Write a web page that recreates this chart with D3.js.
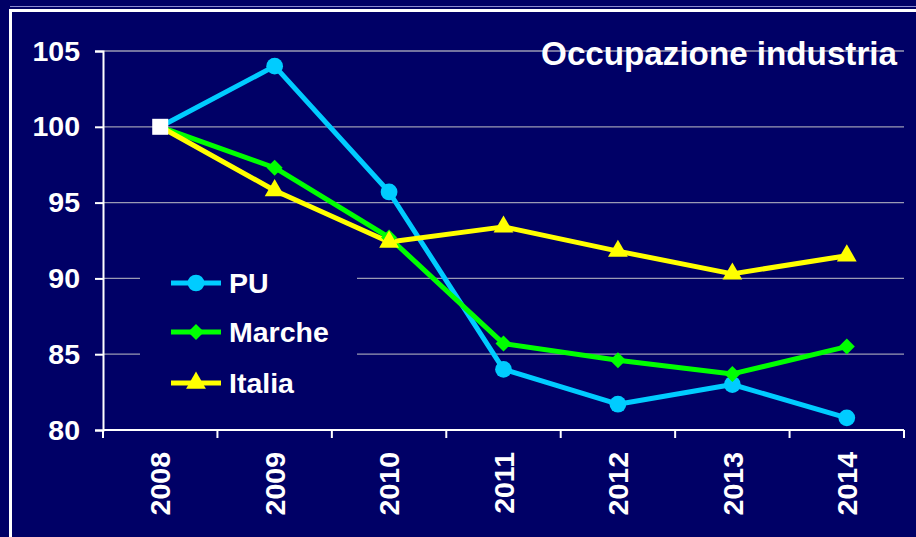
<!DOCTYPE html>
<html><head><meta charset="utf-8">
<script src="https://cdn.jsdelivr.net/npm/d3@7"></script>
<style>html,body{margin:0;padding:0;background:#000066;overflow:hidden}</style>
</head><body><svg id="c" width="916" height="537"></svg>
<script>
const years = ["2008","2009","2010","2011","2012","2013","2014"];
const puValues = [100, 104.0, 95.7, 84.0, 81.7, 83.0, 80.8];
const marcheValues = [100, 97.3, 92.7, 85.7, 84.6, 83.7, 85.5];
const italiaValues = [100, 95.8, 92.4, 93.4, 91.8, 90.3, 91.5];
const seriesNames = ["PU", "Marche", "Italia"];
const yTicks = [80, 85, 90, 95, 100, 105];
const titleText = "Occupazione industria";

const diamond = {draw(ctx, size){ const r = Math.sqrt(size/2); ctx.moveTo(0,-r); ctx.lineTo(r,0); ctx.lineTo(0,r); ctx.lineTo(-r,0); ctx.closePath(); }};
const series = [
  {name: seriesNames[0], values: puValues, color: "#00CCFF", symbol: d3.symbolCircle, size: 220},
  {name: seriesNames[1], values: marcheValues, color: "#00FF00", symbol: diamond, size: 128},
  {name: seriesNames[2], values: italiaValues, color: "#FFFF00", symbol: d3.symbolTriangle, size: 170}
];

const svg = d3.select("#c");
const font = "'Liberation Sans', Arial, sans-serif";
svg.append("rect").attr("width",916).attr("height",537).attr("fill","#000066");
// frame
svg.append("line").attr("x1",10).attr("x2",916).attr("y1",6.5).attr("y2",6.5).attr("stroke","#8a8ad0").attr("stroke-width",1);
svg.append("rect").attr("x",10.5).attr("y",10.5).attr("width",960).attr("height",600)
  .attr("fill","none").attr("stroke","#fff").attr("stroke-width",3);

const x = d3.scaleBand().domain(years).range([103, 904]);
const y = d3.scaleLinear().domain([80, 105]).range([430, 51]);

// gridlines
const grid = svg.append("g");
grid.selectAll("line").data(yTicks.filter(v => v > 80)).join("line")
  .attr("x1",103).attr("x2",904).attr("y1",d=>y(d)).attr("y2",d=>y(d))
  .attr("stroke","#9a9ab4").attr("stroke-width",1.3);

// y axis
const yAxis = d3.axisLeft(y).tickValues(yTicks).tickSize(8).tickPadding(14).tickFormat(d3.format("d"));
const gy = svg.append("g").attr("transform","translate(103,0)").call(yAxis);
gy.select(".domain").attr("stroke","#fff").attr("stroke-width",2);
gy.selectAll(".tick line").attr("stroke","#fff").attr("stroke-width",2);
gy.selectAll(".tick text").attr("fill","#fff").attr("font-family",font).attr("font-weight","bold").attr("font-size",28.5).attr("x",-23);

// x axis
const xAxis = d3.axisBottom(x).tickSize(0).tickFormat(d=>d);
const gx = svg.append("g").attr("transform","translate(0,430)").call(xAxis);
gx.select(".domain").attr("stroke","#fff").attr("stroke-width",2).attr("d","M103,0H904");
gx.selectAll(".tick text").attr("fill","#fff").attr("font-family",font).attr("font-weight","bold").attr("font-size",28.5)
  .attr("transform","rotate(-90)").attr("text-anchor","end").attr("x",-22).attr("y",0).attr("dy","0.36em");
// boundary ticks
const bounds = years.map(yr => x(yr)).concat([x.range()[1]]);
gx.selectAll(".btick").data(bounds).join("line").attr("class","btick")
  .attr("x1",d=>d).attr("x2",d=>d).attr("y1",0).attr("y2",8).attr("stroke","#fff").attr("stroke-width",2);

const cx = d => x(d) + x.bandwidth()/2;
const line = d3.line().x((d,i)=>cx(years[i])).y(d=>y(d));

series.forEach(s => {
  svg.append("path").datum(s.values).attr("d", line).attr("fill","none")
    .attr("stroke", s.color).attr("stroke-width",5).attr("stroke-linejoin","round");
});
series.forEach(s => {
  const sym = d3.symbol().type(s.symbol).size(s.size);
  svg.append("g").selectAll("path").data(s.values.slice(1)).join("path")
    .attr("transform",(d,i)=>`translate(${cx(years[i+1])},${y(d)})`)
    .attr("d", sym()).attr("fill", s.color);
});
// 2008 base point
svg.append("rect").attr("x",cx(years[0])-8).attr("y",y(100)-8).attr("width",16).attr("height",16).attr("fill","#fff");

// title
svg.append("text").attr("x",897).attr("y",65).attr("text-anchor","end").attr("fill","#fff")
  .attr("font-family",font).attr("font-weight","bold").attr("font-size",33.2).text(titleText);

// legend
const leg = svg.append("g");
leg.append("rect").attr("x",140).attr("y",255).attr("width",217).attr("height",150).attr("fill","#000066");
const legY = [283, 332, 383];
series.forEach((s,i) => {
  const g = leg.append("g").attr("transform",`translate(0,${legY[i]})`);
  g.append("line").attr("x1",171).attr("x2",221).attr("stroke",s.color).attr("stroke-width",5);
  g.append("path").attr("transform","translate(196,0)").attr("d", d3.symbol().type(s.symbol).size(s.size)()).attr("fill",s.color);
  g.append("text").attr("x",229).attr("y",0).attr("dy","0.36em").attr("fill","#fff")
    .attr("font-family",font).attr("font-weight","bold").attr("font-size",28.5).text(s.name);
});
</script></body></html>
